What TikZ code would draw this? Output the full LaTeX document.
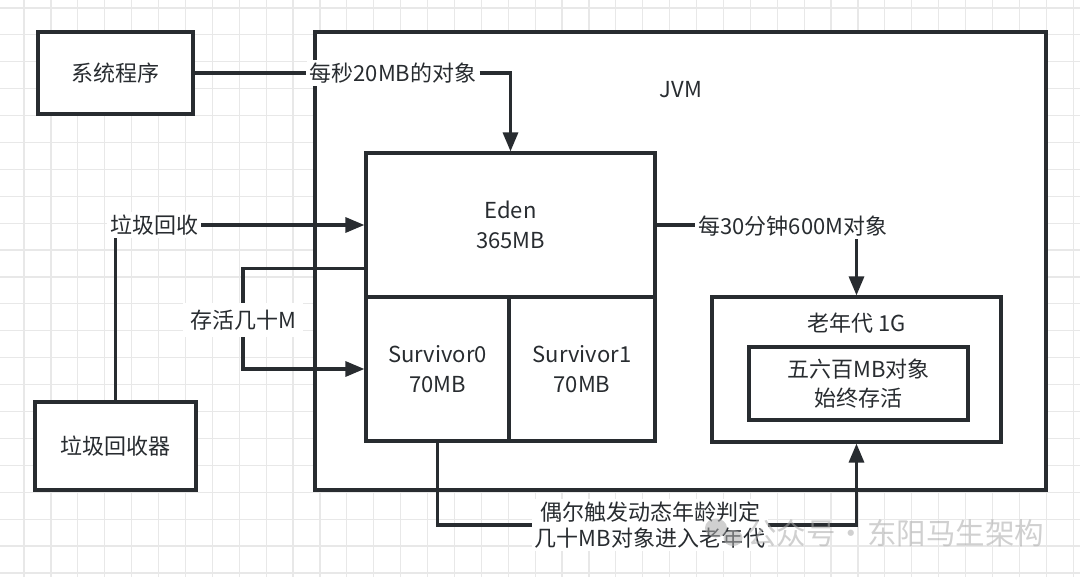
\documentclass[tikz,border=0pt]{standalone}
\usepackage{fontspec}
\setmainfont{Noto Sans CJK SC}
\usetikzlibrary{arrows.meta,calc}
\definecolor{ink}{RGB}{40,44,48}
\definecolor{gridc}{RGB}{232,232,232}
\definecolor{wm}{RGB}{170,170,170}
\begin{document}
\begin{tikzpicture}[x=1pt,y=-1pt,
  box/.style={draw=ink,line width=3.2pt,fill=white,inner sep=0pt,text=ink,align=center,
    font=\fontsize{22}{30}\selectfont},
  lbl/.style={fill=white,inner sep=3pt,text=ink,align=center,font=\fontsize{22}{26}\selectfont},
  conn/.style={draw=ink,line width=3.2pt},
  tip/.style={-{Triangle[length=19pt,width=15pt]}}]
\useasboundingbox (0,0) rectangle (1080,577);
\fill[white] (0,0) rectangle (1080,577);
\begin{scope}
\clip (0,0) rectangle (1080,577);
\foreach \i in {0,...,40} \draw[gridc,line width=1.2pt] (24+\i*26.9,0) -- (24+\i*26.9,577);
\foreach \j in {0,...,21} \draw[gridc,line width=1.2pt] (0,8+\j*26.9) -- (1080,8+\j*26.9);
\end{scope}

% boxes
\node[box,minimum width=731pt,minimum height=458pt] (jvm) at (680.5,261) {};
\node[text=ink,font=\fontsize{22}{26}\selectfont] (jvmt) at (681,90) {JVM};
\node[box,minimum width=155pt,minimum height=82pt] (sys) at (115.5,73) {系统程序};
\node[box,minimum width=161pt,minimum height=88pt] (gc) at (115.5,446) {垃圾回收器};
\node[box,minimum width=289pt,minimum height=144pt] (eden) at (510.5,225) {Eden\\365MB};
\node[box,minimum width=143pt,minimum height=144pt] (s0) at (437.5,369) {Survivor0\\70MB};
\node[box,minimum width=146pt,minimum height=144pt] (s1) at (582,369) {Survivor1\\70MB};
\node[box,minimum width=289pt,minimum height=145pt] (old) at (856.5,369.5) {};
\node[text=ink,font=\fontsize{22}{26}\selectfont] (oldt) at (857,323) {老年代 1G};
\node[box,minimum width=219pt,minimum height=73pt,font=\fontsize{22}{29}\selectfont] (inner) at (858.5,383.5) {五六百MB对象\\始终存活};

% labels
\node[lbl] (l20) at (393,73) {每秒20MB的对象};
\node[lbl] (lgc) at (154,225) {垃圾回收};
\node[lbl,inner sep=7pt] (lsurv) at (243,320) {存活几十M};
\node[lbl] (l30) at (793,226) {每30分钟600M对象};
\node[lbl] (lpro) at (650,525) {偶尔触发动态年龄判定\\几十MB对象进入老年代};

% connectors
\draw[conn] (sys.east) -- (l20.west);
\draw[conn,tip] (l20.east) -| (eden.north);
\draw[conn,tip] (lgc.east) -- (eden.west);
\draw[conn] (gc.north) -- (gc.north |- lgc.south);
\draw[conn] ($(eden.south west)+(0,-30)$) -| (lsurv.north);
\draw[conn,tip] (lsurv.south) |- (s0.west);
\draw[conn] (eden.east) -- (eden.east -| l30.west);
\draw[conn,tip] (l30.south -| old.north) -- (old.north);
\draw[conn] (s0.south) |- (lpro.west);
\draw[conn,tip] (lpro.east) -| (old.south);

% watermark
\begin{scope}[opacity=0.55]
\fill[wm] (716,528) ellipse (11pt and 9.5pt);
\fill[wm] (733,538) ellipse (9.5pt and 8pt);
\node[anchor=west,text=wm,font=\fontsize{29.5}{32}\selectfont,inner sep=0pt] (wmt) at (747,533) {公众号\hspace{1pt}·\hspace{1pt}东阳马生架构};
\end{scope}
\end{tikzpicture}
\end{document}
